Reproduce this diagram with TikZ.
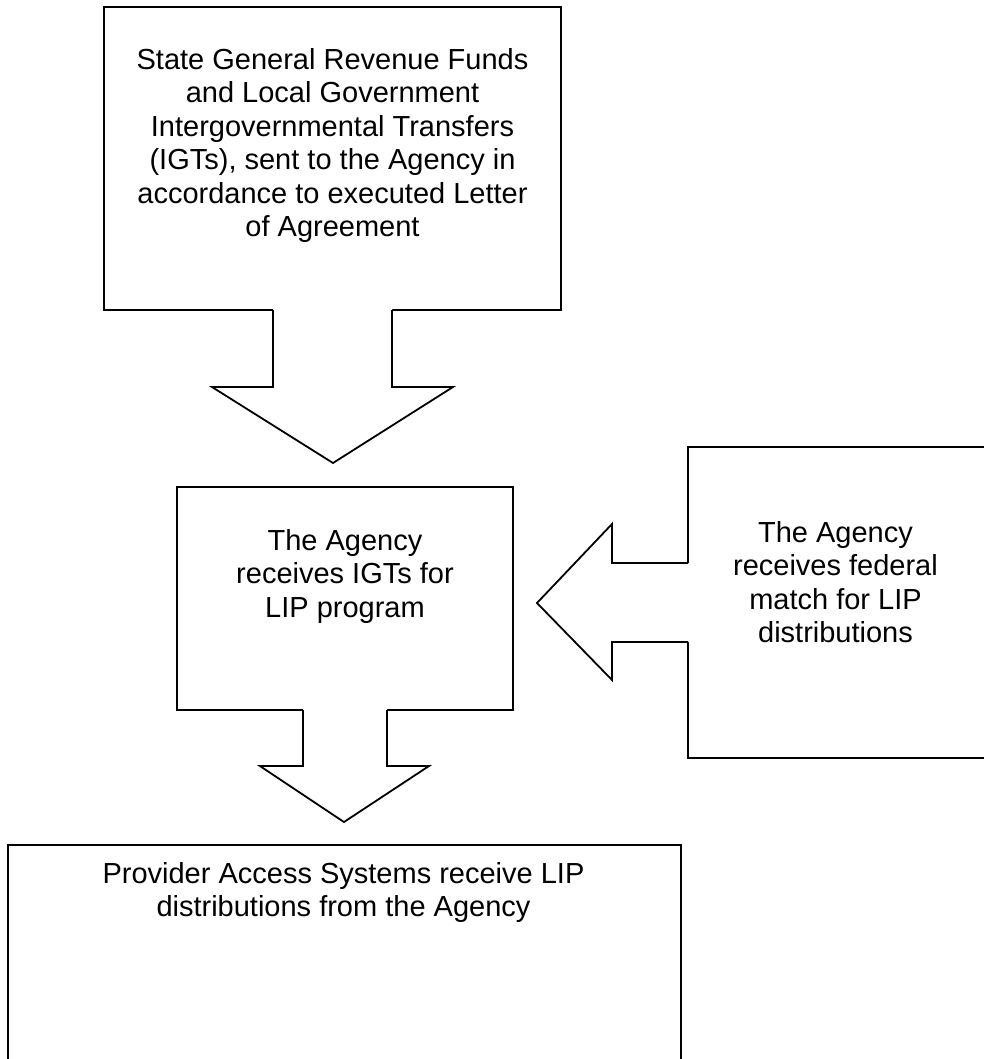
\documentclass[tikz,border=0pt]{standalone}
\usepackage{fontspec}
\setmainfont{Liberation Sans}
\begin{document}
\begin{tikzpicture}[x=1pt, y=1pt,
    box/.style={draw, line width=1.8pt, inner sep=0pt},
    txt/.style={align=center, inner sep=0pt, anchor=north, font=\fontsize{29}{33.5}\selectfont},
    blockarrow/.style={line width=1.8pt, line join=miter}]

    \useasboundingbox (0,0) rectangle (984,-1059);

    % boxes
    \node[box, minimum width=457pt, minimum height=303pt] (funds)     at (332.5,-158.5) {};
    \node[box, minimum width=336pt, minimum height=223pt] (agency)    at (345,-598.5)   {};
    \node[box, minimum width=302pt, minimum height=311pt] (federal)   at (839,-602.5)   {};
    \node[box, minimum width=673pt, minimum height=225pt] (providers) at (344.5,-957.5) {};

    % funds -> agency
    \coordinate (a0) at (273,-304);
    \coordinate (a1) at (273,-310);
    \coordinate (a2) at (273,-387);
    \coordinate (a3) at (212,-387);
    \coordinate (a4) at (333,-463);
    \coordinate (a5) at (453,-387);
    \coordinate (a6) at (392,-387);
    \coordinate (a7) at (392,-310);
    \coordinate (a8) at (392,-304);
    \fill[white] (a0) -- (a2) -- (a3) -- (a4) -- (a5) -- (a6) -- (a8) -- cycle;
    \draw[blockarrow] (a1) -- (a2) -- (a3) -- (a4) -- (a5) -- (a6) -- (a7);

    % federal -> agency
    \coordinate (b0) at (694,-563);
    \coordinate (b1) at (688,-563);
    \coordinate (b2) at (612,-563);
    \coordinate (b3) at (612,-524);
    \coordinate (b4) at (537,-603);
    \coordinate (b5) at (612,-680);
    \coordinate (b6) at (612,-642);
    \coordinate (b7) at (688,-642);
    \coordinate (b8) at (694,-642);
    \fill[white] (b0) -- (b2) -- (b3) -- (b4) -- (b5) -- (b6) -- (b8) -- cycle;
    \draw[blockarrow] (b1) -- (b2) -- (b3) -- (b4) -- (b5) -- (b6) -- (b7);

    % agency -> providers
    \coordinate (c0) at (303,-704);
    \coordinate (c1) at (303,-710);
    \coordinate (c2) at (303,-766);
    \coordinate (c3) at (260,-766);
    \coordinate (c4) at (344,-822);
    \coordinate (c5) at (429,-766);
    \coordinate (c6) at (387,-766);
    \coordinate (c7) at (387,-710);
    \coordinate (c8) at (387,-704);
    \fill[white] (c0) -- (c2) -- (c3) -- (c4) -- (c5) -- (c6) -- (c8) -- cycle;
    \draw[blockarrow] (c1) -- (c2) -- (c3) -- (c4) -- (c5) -- (c6) -- (c7);

    % texts
    \node[txt] (fundstext) at (332.5,-48) {State General Revenue Funds\\and Local Government\\Intergovernmental Transfers\\(IGTs), sent to the Agency in\\accordance to executed Letter\\of Agreement};
    \node[txt] (agencytext) at (345,-529) {The Agency\\receives IGTs for\\LIP program};
    \node[txt] (federaltext) at (835.5,-521) {The Agency\\receives federal\\match for LIP\\distributions};
    \node[txt] (providertext) at (343.5,-862) {Provider Access Systems receive LIP\\distributions from the Agency};

\end{tikzpicture}
\end{document}
